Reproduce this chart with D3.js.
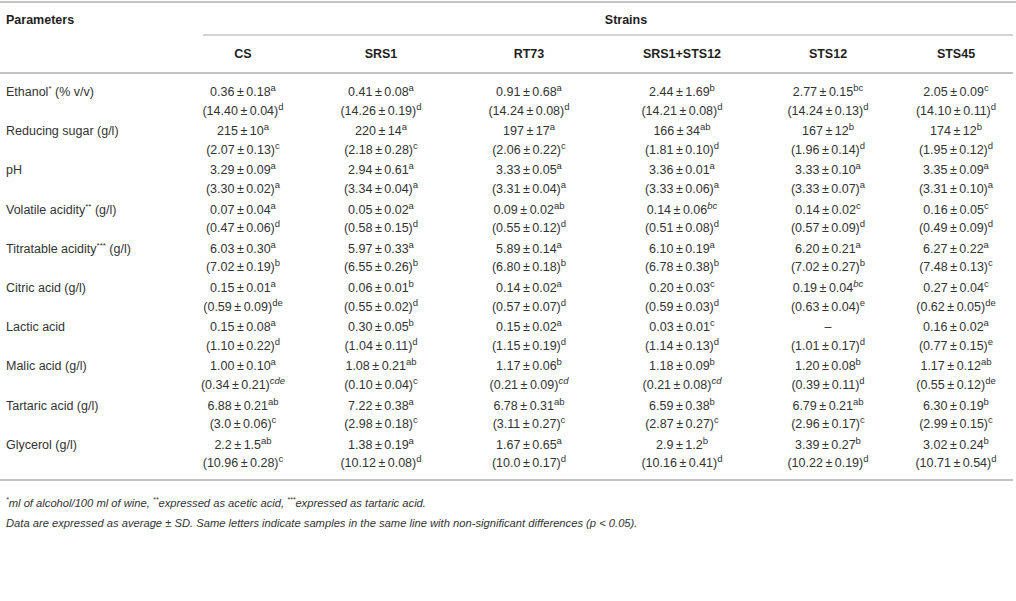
<!DOCTYPE html>
<html>
<head>
<meta charset="utf-8">
<script src="https://cdn.jsdelivr.net/npm/d3@7"></script>
<style>
  body { margin: 0; background: #fff; }
  svg { display: block; font-family: "Liberation Sans", Arial, sans-serif; }
  .rule { stroke: #c4c4c4; }
  .head { font-weight: bold; fill: #1e1e1e; font-size: 12.5px; }
  .cell { fill: #333; font-size: 12.5px; }
  .note { fill: #333; font-size: 11.2px; font-style: italic; }
</style>
</head>
<body>
<div id="chart"></div>
<script>
// Wine parameters per strain — table drawn with D3.

const parameters = [
    "Ethanol", "Reducing sugar", "pH", "Volatile acidity", "Titratable acidity",
    "Citric acid", "Lactic acid", "Malic acid", "Tartaric acid", "Glycerol",
];
// [name, asterisks, unit]
const paramLabels = [
    ["Ethanol", "*", " (% v/v)"],
    ["Reducing sugar", "", " (g/l)"],
    ["pH", "", ""],
    ["Volatile acidity", "**", " (g/l)"],
    ["Titratable acidity", "***", " (g/l)"],
    ["Citric acid", "", " (g/l)"],
    ["Lactic acid", "", ""],
    ["Malic acid", "", " (g/l)"],
    ["Tartaric acid", "", " (g/l)"],
    ["Glycerol", "", " (g/l)"],
];

const strains = ["CS", "SRS1", "RT73", "SRS1+STS12", "STS12", "STS45"];

// first line of each parameter: mean, sd, letters (per strain)
const topMean = [
    ["0.36", "0.41", "0.91", "2.44", "2.77", "2.05"],
    ["215", "220", "197", "166", "167", "174"],
    ["3.29", "2.94", "3.33", "3.36", "3.33", "3.35"],
    ["0.07", "0.05", "0.09", "0.14", "0.14", "0.16"],
    ["6.03", "5.97", "5.89", "6.10", "6.20", "6.27"],
    ["0.15", "0.06", "0.14", "0.20", "0.19", "0.27"],
    ["0.15", "0.30", "0.15", "0.03", null, "0.16"],
    ["1.00", "1.08", "1.17", "1.18", "1.20", "1.17"],
    ["6.88", "7.22", "6.78", "6.59", "6.79", "6.30"],
    ["2.2", "1.38", "1.67", "2.9", "3.39", "3.02"],
];
const topSd = [
    ["0.18", "0.08", "0.68", "1.69", "0.15", "0.09"],
    ["10", "14", "17", "34", "12", "12"],
    ["0.09", "0.61", "0.05", "0.01", "0.10", "0.09"],
    ["0.04", "0.02", "0.02", "0.06", "0.02", "0.05"],
    ["0.30", "0.33", "0.14", "0.19", "0.21", "0.22"],
    ["0.01", "0.01", "0.02", "0.03", "0.04", "0.04"],
    ["0.08", "0.05", "0.02", "0.01", null, "0.02"],
    ["0.10", "0.21", "0.06", "0.09", "0.08", "0.12"],
    ["0.21", "0.38", "0.31", "0.38", "0.21", "0.19"],
    ["1.5", "0.19", "0.65", "1.2", "0.27", "0.24"],
];
const topLetters = [
    ["a", "a", "a", "b", "bc", "c"],
    ["a", "a", "a", "ab", "b", "b"],
    ["a", "a", "a", "a", "a", "a"],
    ["a", "a", "ab", "bc", "c", "c"],
    ["a", "a", "a", "a", "a", "a"],
    ["a", "b", "a", "c", "bc", "c"],
    ["a", "b", "a", "c", "", "a"],
    ["a", "ab", "b", "b", "b", "ab"],
    ["ab", "a", "ab", "b", "ab", "b"],
    ["ab", "a", "a", "b", "b", "b"],
];

// second line (in parentheses)
const bottomMean = [
    ["14.40", "14.26", "14.24", "14.21", "14.24", "14.10"],
    ["2.07", "2.18", "2.06", "1.81", "1.96", "1.95"],
    ["3.30", "3.34", "3.31", "3.33", "3.33", "3.31"],
    ["0.47", "0.58", "0.55", "0.51", "0.57", "0.49"],
    ["7.02", "6.55", "6.80", "6.78", "7.02", "7.48"],
    ["0.59", "0.55", "0.57", "0.59", "0.63", "0.62"],
    ["1.10", "1.04", "1.15", "1.14", "1.01", "0.77"],
    ["0.34", "0.10", "0.21", "0.21", "0.39", "0.55"],
    ["3.0", "2.98", "3.11", "2.87", "2.96", "2.99"],
    ["10.96", "10.12", "10.0", "10.16", "10.22", "10.71"],
];
const bottomSd = [
    ["0.04", "0.19", "0.08", "0.08", "0.13", "0.11"],
    ["0.13", "0.28", "0.22", "0.10", "0.14", "0.12"],
    ["0.02", "0.04", "0.04", "0.06", "0.07", "0.10"],
    ["0.06", "0.15", "0.12", "0.08", "0.09", "0.09"],
    ["0.19", "0.26", "0.18", "0.38", "0.27", "0.13"],
    ["0.09", "0.02", "0.07", "0.03", "0.04", "0.05"],
    ["0.22", "0.11", "0.19", "0.13", "0.17", "0.15"],
    ["0.21", "0.04", "0.09", "0.08", "0.11", "0.12"],
    ["0.06", "0.18", "0.27", "0.27", "0.17", "0.15"],
    ["0.28", "0.08", "0.17", "0.41", "0.19", "0.54"],
];
const bottomLetters = [
    ["d", "d", "d", "d", "d", "d"],
    ["c", "c", "c", "d", "d", "d"],
    ["a", "a", "a", "a", "a", "a"],
    ["d", "d", "d", "d", "d", "d"],
    ["b", "b", "b", "b", "b", "c"],
    ["de", "d", "d", "d", "e", "de"],
    ["d", "d", "d", "d", "d", "e"],
    ["cde", "c", "cd", "cd", "d", "de"],
    ["c", "c", "c", "c", "c", "c"],
    ["c", "d", "d", "d", "d", "d"],
];

// superscripts set in italics in the source: [param index, strain index, line]
const italicSups = [[3, 3, 0], [5, 4, 0], [7, 0, 1], [7, 2, 1], [7, 3, 1]];

const footnotes = [
    [["*", "sup"], ["ml of alcohol/100 ml of wine, ", ""], ["**", "sup"],
     ["expressed as acetic acid, ", ""], ["***", "sup"], ["expressed as tartaric acid.", ""]],
    [["Data are expressed as average \u00b1 SD. Same letters indicate samples in the same line with non-significant differences (", ""],
     ["p", ""], [" < 0.05).", ""]],
];

const width = 1016;
const height = 601;
const colCenters = [243, 381, 529, 682, 828, 956];
const PM = "\u2009\u00b1\u2009";

const svg = d3.select("#chart").append("svg")
    .attr("width", width)
    .attr("height", height);

const x = d3.scaleOrdinal().domain(strains).range(colCenters);
const y = d3.scaleBand().domain(parameters).range([82, 474]);
const lineGap = 18.5;

// Rules
const rules = [
    { x1: 0, x2: width, y: 2, w: 2 },
    { x1: 203, x2: width - 3, y: 35, w: 1.5 },
    { x1: 0, x2: width - 3, y: 73, w: 2 },
    { x1: 0, x2: width - 3, y: 480, w: 2 },
];
svg.selectAll("line.rule")
    .data(rules)
    .join("line")
    .attr("class", "rule")
    .attr("x1", (d) => d.x1).attr("x2", (d) => d.x2)
    .attr("y1", (d) => d.y).attr("y2", (d) => d.y)
    .attr("stroke-width", (d) => d.w);

// Header
svg.append("text").attr("class", "head")
    .attr("x", 6).attr("y", 24).text("Parameters");
svg.append("text").attr("class", "head")
    .attr("x", 626).attr("y", 24).attr("text-anchor", "middle").text("Strains");
svg.selectAll("text.colhead")
    .data(strains)
    .join("text")
    .attr("class", "head colhead")
    .attr("x", (d) => x(d))
    .attr("y", 58)
    .attr("text-anchor", "middle")
    .text((d) => d);

// Row labels
const labels = svg.selectAll("text.rowlabel")
    .data(parameters)
    .join("text")
    .attr("class", "cell rowlabel")
    .attr("x", 6)
    .attr("y", (d) => y(d) + 14);
labels.each(function (d, i) {
    const [name, stars, unit] = paramLabels[i];
    const t = d3.select(this);
    t.append("tspan").text(name);
    if (stars) {
        t.append("tspan").attr("dy", -5).attr("font-size", 8).text(stars);
        t.append("tspan").attr("dy", 5).text(unit);
    } else if (unit) {
        t.append("tspan").text(unit);
    }
});

// Cells
const cells = [];
parameters.forEach((p, i) => {
    strains.forEach((s, j) => {
        cells.push({ p, s, i, j, line: 0, mean: topMean[i][j], sd: topSd[i][j], sup: topLetters[i][j] });
        cells.push({ p, s, i, j, line: 1, mean: bottomMean[i][j], sd: bottomSd[i][j], sup: bottomLetters[i][j] });
    });
});
const isItalic = (d) => italicSups.some(([a, b, c]) => a === d.i && b === d.j && c === d.line);

svg.selectAll("text.val")
    .data(cells)
    .join("text")
    .attr("class", "cell val")
    .attr("x", (d) => x(d.s))
    .attr("y", (d) => y(d.p) + 14 + d.line * lineGap)
    .attr("text-anchor", "middle")
    .each(function (d) {
        const t = d3.select(this);
        if (d.mean == null) {
            t.text("\u2013");
            return;
        }
        const body = d.line ? `(${d.mean}${PM}${d.sd})` : `${d.mean}${PM}${d.sd}`;
        t.append("tspan").text(body);
        t.append("tspan")
            .attr("dy", -5)
            .attr("font-size", 9.5)
            .attr("font-style", isItalic(d) ? "italic" : null)
            .text(d.sup);
    });

// Footnotes
svg.selectAll("text.note")
    .data(footnotes)
    .join("text")
    .attr("class", "note")
    .attr("x", 6)
    .attr("y", (_, i) => 507 + i * 20)
    .each(function (parts) {
        const t = d3.select(this);
        let raised = false;
        for (const [txt, kind] of parts) {
            const span = t.append("tspan").text(txt);
            if (kind === "sup" && !raised) {
                span.attr("dy", -5).attr("font-size", 7);
                raised = true;
            } else if (kind !== "sup" && raised) {
                span.attr("dy", 5);
                raised = false;
            } else if (kind === "sup") {
                span.attr("font-size", 7);
            }
        }
    });
</script>
</body>
</html>
